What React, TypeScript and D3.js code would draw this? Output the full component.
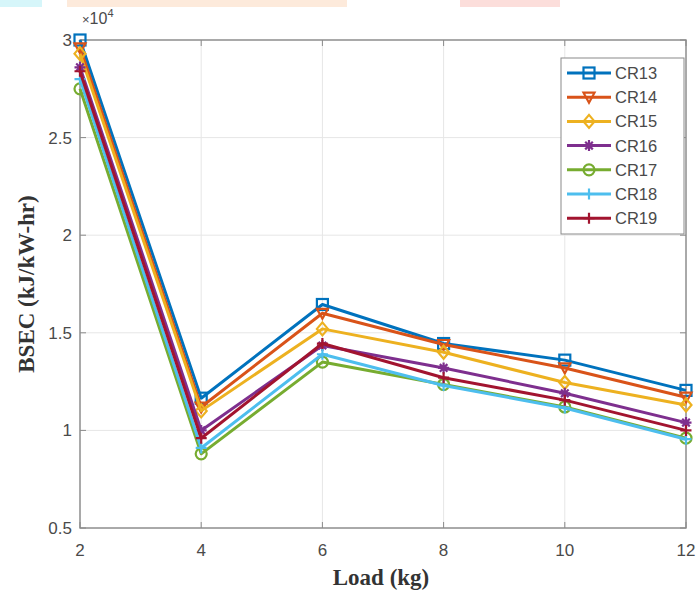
import React from "react";
import * as d3 from "d3";

const loads = [2, 4, 6, 8, 10, 12];
const seriesNames = ["CR13", "CR14", "CR15", "CR16", "CR17", "CR18", "CR19"];
const cr13 = [3.0, 1.165, 1.645, 1.445, 1.36, 1.205];
const cr14 = [2.96, 1.12, 1.6, 1.44, 1.32, 1.17];
const cr15 = [2.93, 1.1, 1.52, 1.4, 1.245, 1.13];
const cr16 = [2.86, 1.0, 1.435, 1.32, 1.19, 1.04];
const cr17 = [2.75, 0.88, 1.35, 1.235, 1.12, 0.96];
const cr18 = [2.8, 0.91, 1.39, 1.23, 1.115, 0.955];
const cr19 = [2.84, 0.96, 1.445, 1.27, 1.155, 1.0];
const xTicks = [2, 4, 6, 8, 10, 12];
const yTicks = [0.5, 1, 1.5, 2, 2.5, 3];

const seriesValues = [cr13, cr14, cr15, cr16, cr17, cr18, cr19];
const colors = ["#0072BD", "#D95319", "#EDB120", "#7E2F8E", "#77AC30", "#4DBEEE", "#A2142F"];
const markers = ["square", "tridown", "diamond", "star", "circle", "plus", "plus"];

const W = 696, H = 591;
const left = 80, right = 686, top = 40, bottom = 528;

function Marker({ type, cx, cy, color }: { type: string; cx: number; cy: number; color: string }) {
  const s = 5.5;
  const common = { stroke: color, strokeWidth: 2.2, fill: "none" };
  switch (type) {
    case "square":
      return <rect x={cx - s} y={cy - s} width={2 * s} height={2 * s} {...common} />;
    case "circle":
      return <circle cx={cx} cy={cy} r={s} {...common} />;
    case "diamond":
      return <path d={`M${cx},${cy - s - 1}L${cx + s},${cy}L${cx},${cy + s + 1}L${cx - s},${cy}Z`} {...common} />;
    case "tridown":
      return <path d={`M${cx - s},${cy - s + 1}L${cx + s},${cy - s + 1}L${cx},${cy + s}Z`} {...common} />;
    case "plus":
      return <path d={`M${cx - s},${cy}L${cx + s},${cy}M${cx},${cy - s}L${cx},${cy + s}`} {...common} />;
    case "star":
      return (
        <path
          d={`M${cx - s},${cy}L${cx + s},${cy}M${cx},${cy - s}L${cx},${cy + s}M${cx - 3.8},${cy - 3.8}L${cx + 3.8},${cy + 3.8}M${cx - 3.8},${cy + 3.8}L${cx + 3.8},${cy - 3.8}`}
          {...common}
        />
      );
    default:
      return null;
  }
}

export default function App() {
  const x = d3.scaleLinear().domain([2, 12]).range([left, right]);
  const y = d3.scaleLinear().domain([0.5, 3]).range([bottom, top]);
  const line = d3
    .line<number>()
    .x((_, i) => x(loads[i]))
    .y((d) => y(d));

  const tickFont = "Liberation Sans, Arial, sans-serif";
  const labelFont = "Liberation Serif, Times New Roman, serif";
  const axisColor = "#8a8a8a";
  const textColor = "#4a4a4a";

  const legX = 561, legY = 58, legW = 123, legH = 176, legStep = 24.2;

  return (
    <svg width={W} height={H} style={{ position: "absolute", left: 0, top: 0, background: "#fff" }}>
      {/* faint banner remnants at the top of the picture */}
      <rect x={0} y={0} width={42} height={7} fill="#d6f6fa" />
      <rect x={67} y={0} width={280} height={7} fill="#fdeadb" />
      <rect x={460} y={0} width={100} height={7} fill="#fcdedb" />

      {/* grid */}
      {xTicks.map((t) => (
        <line key={"gx" + t} x1={x(t)} x2={x(t)} y1={top} y2={bottom} stroke="#e6e6e6" strokeWidth={1} />
      ))}
      {yTicks.map((t) => (
        <line key={"gy" + t} x1={left} x2={right} y1={y(t)} y2={y(t)} stroke="#e6e6e6" strokeWidth={1} />
      ))}

      {/* box */}
      <rect x={left} y={top} width={right - left} height={bottom - top} fill="none" stroke={axisColor} strokeWidth={1.4} />
      {xTicks.map((t) => (
        <g key={"tx" + t}>
          <line x1={x(t)} x2={x(t)} y1={bottom} y2={bottom - 6} stroke={axisColor} />
          <line x1={x(t)} x2={x(t)} y1={top} y2={top + 6} stroke={axisColor} />
          <text x={x(t)} y={556} textAnchor="middle" fontFamily={tickFont} fontSize={17} fill={textColor}>
            {t}
          </text>
        </g>
      ))}
      {yTicks.map((t) => (
        <g key={"ty" + t}>
          <line x1={left} x2={left + 6} y1={y(t)} y2={y(t)} stroke={axisColor} />
          <line x1={right} x2={right - 6} y1={y(t)} y2={y(t)} stroke={axisColor} />
          <text x={72} y={y(t) + 6} textAnchor="end" fontFamily={tickFont} fontSize={17} fill={textColor}>
            {t}
          </text>
        </g>
      ))}
      <text x={82} y={24} fontFamily={tickFont} fontSize={16} fill={textColor}>
        <tspan fontSize={13}>×</tspan>10
        <tspan dy={-7} fontSize={11}>
          4
        </tspan>
      </text>

      {/* series */}
      {seriesValues.map((vals, si) => (
        <g key={seriesNames[si]}>
          <path d={line(vals) || ""} fill="none" stroke={colors[si]} strokeWidth={3} strokeLinejoin="round" />
          {vals.map((v, i) => (
            <Marker key={i} type={markers[si]} cx={x(loads[i])} cy={y(v)} color={colors[si]} />
          ))}
        </g>
      ))}

      {/* legend */}
      <rect x={legX} y={legY} width={legW} height={legH} fill="#fff" stroke="#8a8a8a" strokeWidth={1} />
      {seriesNames.map((n, i) => {
        const cy = legY + 15 + i * legStep;
        return (
          <g key={"leg" + n}>
            <line x1={567} x2={611} y1={cy} y2={cy} stroke={colors[i]} strokeWidth={3} />
            <Marker type={markers[i]} cx={589} cy={cy} color={colors[i]} />
            <text x={615} y={cy + 6} fontFamily={tickFont} fontSize={16.5} fill={textColor}>
              {n}
            </text>
          </g>
        );
      })}

      {/* axis labels */}
      <text x={381} y={585} textAnchor="middle" fontFamily={labelFont} fontWeight="bold" fontSize={23} fill="#333">
        Load (kg)
      </text>
      <text
        transform={`translate(34,${(top + bottom) / 2}) rotate(-90)`}
        textAnchor="middle"
        fontFamily={labelFont}
        fontWeight="bold"
        fontSize={23}
        fill="#333"
      >
        BSEC (kJ/kW-hr)
      </text>
    </svg>
  );
}
